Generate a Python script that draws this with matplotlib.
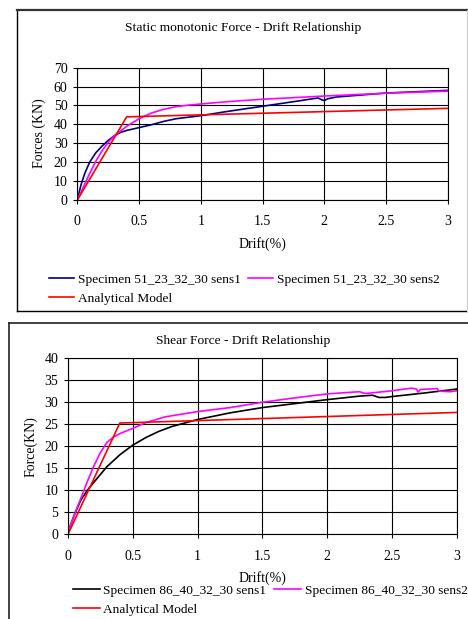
import matplotlib
matplotlib.use("Agg")
import matplotlib.pyplot as plt
from matplotlib.lines import Line2D

plt.rcParams['font.family'] = ['Liberation Serif', 'DejaVu Serif']

# ---------------- data: top chart ----------------
top_title = "Static monotonic Force - Drift Relationship"
top_ylabel = "Forces (KN)"
top_xlabel = "Drift(%)"
top_labels = ["Specimen 51_23_32_30 sens1", "Specimen 51_23_32_30 sens2", "Analytical Model"]
top_s1_x = [0.0, 0.03, 0.06, 0.1, 0.15, 0.2, 0.25, 0.3, 0.35, 0.4, 0.5, 0.6, 0.7, 0.8, 0.9, 1.0,
            1.2, 1.5, 1.8, 1.95, 1.98, 2.0, 2.03, 2.1, 2.5, 3.0]
top_s1_y = [0.0, 8.0, 14.0, 20.0, 25.0, 28.5, 31.5, 34.0, 35.8, 36.8, 38.3, 39.8, 41.6, 43.0, 43.8, 44.6,
            46.7, 49.6, 52.5, 54.0, 53.0, 52.6, 53.6, 54.5, 56.6, 58.0]
top_s2_x = [0.0, 0.05, 0.1, 0.15, 0.2, 0.25, 0.3, 0.4, 0.5, 0.6, 0.7, 0.8, 0.9, 1.0, 1.25, 1.5, 2.0, 2.5, 3.0]
top_s2_y = [0.0, 7.0, 14.0, 20.5, 26.0, 30.5, 34.0, 39.0, 43.0, 46.0, 48.0, 49.4, 50.2, 50.8, 52.2, 53.3, 55.0, 56.5, 57.6]
top_an_x = [0.0, 0.4, 3.0]
top_an_y = [0.0, 44.0, 48.5]
top_xticks = [0, 0.5, 1, 1.5, 2, 2.5, 3]
top_xticklabels = ["0", "0.5", "1", "1.5", "2", "2.5", "3"]
top_yticks = [0, 10, 20, 30, 40, 50, 60, 70]

# ---------------- data: bottom chart ----------------
bot_title = "Shear Force - Drift Relationship"
bot_ylabel = "Force(KN)"
bot_xlabel = "Drift(%)"
bot_labels = ["Specimen 86_40_32_30 sens1", "Specimen 86_40_32_30 sens2", "Analytical Model"]
bot_s1_x = [0.0, 0.05, 0.1, 0.15, 0.2, 0.3, 0.4, 0.5, 0.6, 0.7, 0.8, 1.0, 1.25, 1.5, 1.75, 2.0,
            2.25, 2.35, 2.4, 2.45, 2.5, 2.75, 3.0]
bot_s1_y = [0.5, 4.5, 7.8, 10.0, 11.8, 15.3, 18.0, 20.2, 21.9, 23.3, 24.4, 26.0, 27.5, 28.7, 29.6, 30.5,
            31.3, 31.5, 31.0, 31.0, 31.2, 32.0, 32.9]
bot_s2_x = [0.0, 0.05, 0.1, 0.15, 0.2, 0.25, 0.3, 0.35, 0.4, 0.5, 0.6, 0.75, 1.0, 1.25, 1.5, 1.75,
            2.0, 2.25, 2.28, 2.3, 2.5, 2.65, 2.69, 2.7, 2.72, 2.85, 2.86, 2.88, 2.95, 3.0]
bot_s2_y = [0.5, 4.5, 8.2, 12.0, 15.5, 18.5, 20.8, 22.0, 22.8, 24.0, 25.3, 26.6, 27.8, 28.7, 29.9, 30.9,
            31.8, 32.3, 32.0, 31.9, 32.5, 33.1, 32.9, 32.2, 32.8, 33.0, 32.5, 32.4, 32.3, 32.5]
bot_an_x = [0.0, 0.4, 3.0]
bot_an_y = [0.0, 25.2, 27.6]
bot_xticks = [0, 0.5, 1, 1.5, 2, 2.5, 3]
bot_xticklabels = ["0", "0.5", "1", "1.5", "2", "2.5", "3"]
bot_yticks = [0, 5, 10, 15, 20, 25, 30, 35, 40]

W, H = 468, 619
fig = plt.figure(figsize=(W / 100, H / 100), dpi=100)


def px_axes(l, t, r, b):
    return fig.add_axes([l / W, 1 - b / H, (r - l) / W, (b - t) / H])


def fig_line(xs, ys, **kw):
    fig.add_artist(Line2D([x / W for x in xs], [1 - y / H for y in ys],
                          transform=fig.transFigure, **kw))


# panel borders
fig_line([17, 17], [10, 311], color='black', lw=1.0)
fig_line([17, 470], [10, 10], color='#333333', lw=1.6)
fig_line([17, 470], [311, 311], color='black', lw=1.0)
fig_line([467, 467], [10, 311], color='#cccccc', lw=0.8)
fig_line([9, 9], [322.7, 625], color='#222222', lw=1.2)
fig_line([9, 470], [322.7, 322.7], color='#222222', lw=1.2)

FS = 10
TFS = 9.7
LFS = 9.6


def style_axes(ax, xticks, xtl, yticks, ymax):
    ax.set_xlim(0, 3)
    ax.set_ylim(0, ymax)
    ax.set_xticks(xticks)
    ax.set_xticklabels(xtl)
    ax.set_yticks(yticks)
    ax.grid(True, color='black', lw=0.8)
    ax.set_axisbelow(True)
    for s in ax.spines.values():
        s.set_color('black')
        s.set_linewidth(0.8)
    ax.tick_params(axis='both', direction='out', length=3, width=0.8, labelsize=FS)


# ---------------- top chart ----------------
ax1 = px_axes(77.3, 67.7, 447.7, 200)
style_axes(ax1, top_xticks, top_xticklabels, top_yticks, 70)
ax1.tick_params(axis='x', pad=8)
ax1.tick_params(axis='y', pad=4)
l1, = ax1.plot(top_s1_x, top_s1_y, color='#000080', lw=1.2)
l2, = ax1.plot(top_s2_x, top_s2_y, color='#ff00ff', lw=1.2)
l3, = ax1.plot(top_an_x, top_an_y, color='#ff0000', lw=1.2)
fig.text(243 / W, 1 - 28 / H, top_title, ha='center', va='center', fontsize=TFS)
fig.text(262.5 / W, 1 - 244 / H, top_xlabel, ha='center', va='center', fontsize=FS)
fig.text(39 / W, 1 - 133 / H, top_ylabel, ha='center', va='center', rotation=90, fontsize=FS)
fig.legend([l1, l3, l2], [top_labels[0], top_labels[2], top_labels[1]], ncol=2,
           loc='upper left', bbox_to_anchor=(49 / W, 1 - 273.5 / H), frameon=False,
           fontsize=LFS, handlelength=1.85, handletextpad=0.3, columnspacing=0.58,
           labelspacing=0.52, borderpad=0, borderaxespad=0)

# ---------------- bottom chart ----------------
ax2 = px_axes(68, 357.7, 456.7, 534.3)
style_axes(ax2, bot_xticks, bot_xticklabels, bot_yticks, 40)
ax2.tick_params(axis='x', pad=8)
ax2.tick_params(axis='y', pad=4)
m1, = ax2.plot(bot_s1_x, bot_s1_y, color='black', lw=1.2)
m2, = ax2.plot(bot_s2_x, bot_s2_y, color='#ff00ff', lw=1.2)
m3, = ax2.plot(bot_an_x, bot_an_y, color='#ff0000', lw=1.2)
fig.text(243 / W, 1 - 341 / H, bot_title, ha='center', va='center', fontsize=TFS)
fig.text(262 / W, 1 - 578 / H, bot_xlabel, ha='center', va='center', fontsize=FS)
fig.text(31 / W, 1 - 447 / H, bot_ylabel, ha='center', va='center', rotation=90, fontsize=FS)
fig.legend([m1, m3, m2], [bot_labels[0], bot_labels[2], bot_labels[1]], ncol=2,
           loc='upper left', bbox_to_anchor=(72.7 / W, 1 - 584.5 / H), frameon=False,
           fontsize=LFS, handlelength=2.05, handletextpad=0.25, columnspacing=0.57,
           labelspacing=0.52, borderpad=0, borderaxespad=0)

fig.savefig("out.png", dpi=100)
